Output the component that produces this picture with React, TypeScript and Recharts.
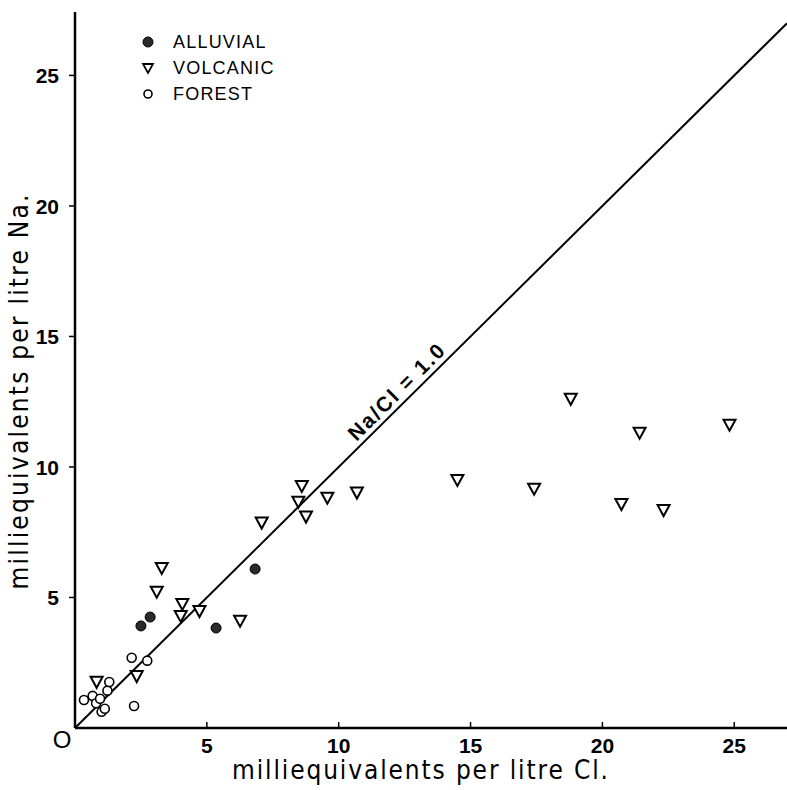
import {
  ScatterChart,
  Scatter,
  XAxis,
  YAxis,
  ReferenceLine,
  ReferenceDot,
  Legend,
} from "recharts";

// Cl (x) and Na (y), milliequivalents per litre
const alluvialCl = [2.5, 2.85, 5.35, 6.83];
const alluvialNa = [3.91, 4.25, 3.83, 6.09];

const volcanicCl = [
  0.82, 2.34, 3.1, 3.29, 4.01, 4.07, 4.72, 6.26, 7.08, 8.47, 8.6, 8.76, 9.57,
  10.69, 14.5, 17.41, 18.8, 20.72, 21.41, 22.32, 24.82,
];
const volcanicNa = [
  1.77, 1.99, 5.22, 6.13, 4.29, 4.75, 4.48, 4.11, 7.87, 8.67, 9.27, 8.1, 8.82,
  9.02, 9.5, 9.17, 12.61, 8.58, 11.31, 8.35, 11.62,
];

const forestCl = [0.34, 0.67, 0.8, 0.95, 1.01, 1.13, 1.23, 1.3, 2.15, 2.24, 2.74];
const forestNa = [1.07, 1.23, 0.95, 1.12, 0.62, 0.74, 1.43, 1.76, 2.69, 0.84, 2.58];

const xTicks = [0, 5, 10, 15, 20, 25];
const yTicks = [5, 10, 15, 20, 25];

const ratioLabel = "Na/Cl = 1.0";

const zip = (xs: number[], ys: number[]) => xs.map((x, i) => ({ cl: x, na: ys[i] }));

const alluvial = zip(alluvialCl, alluvialNa);
const volcanic = zip(volcanicCl, volcanicNa);
const forest = zip(forestCl, forestNa);

const FONT = "'Liberation Sans', Arial, sans-serif";
const NARROW = "'Liberation Sans Narrow', 'DejaVu Sans Condensed', 'Liberation Sans', sans-serif";

const FilledDot = (p: any) => (
  <circle cx={p.cx} cy={p.cy} r={5} fill="#2a2a2a" stroke="#000" strokeWidth={1} />
);

const OpenDot = (p: any) => (
  <circle cx={p.cx} cy={p.cy} r={4.5} fill="#fff" stroke="#000" strokeWidth={1.6} />
);

const Triangle = (p: any) => (
  <path
    d={`M${p.cx - 6},${p.cy - 5} L${p.cx + 6},${p.cy - 5} L${p.cx},${p.cy + 6} Z`}
    fill="#fff"
    stroke="#000"
    strokeWidth={2}
    strokeLinejoin="miter"
  />
);

const XTick = ({ x, y, payload }: any) => {
  if (payload.value === 0) {
    return (
      <text x={x - 13} y={y + 20} textAnchor="middle" fontSize={24} fontFamily={FONT} fill="#000">
        O
      </text>
    );
  }
  return (
    <g>
      <line x1={x} y1={y} x2={x} y2={y - 6} stroke="#000" strokeWidth={1.5} />
      <text x={x} y={y + 25} textAnchor="middle" fontSize={21} fontWeight={600} fontFamily={FONT} fill="#000">
        {payload.value}
      </text>
    </g>
  );
};

const YTick = ({ x, y, payload }: any) => (
  <g>
    <line x1={x} y1={y} x2={x - 6} y2={y} stroke="#000" strokeWidth={1.5} />
    <text x={x - 16} y={y + 8} textAnchor="end" fontSize={21} fontWeight={600} fontFamily={FONT} fill="#000">
      {payload.value}
    </text>
  </g>
);

const legendItems = [
  { name: "ALLUVIAL", icon: "filled" },
  { name: "VOLCANIC", icon: "tri" },
  { name: "FOREST", icon: "open" },
];

const LegendBox = () => (
  <div style={{ fontFamily: FONT, fontSize: 18, color: "#000" }}>
    {legendItems.map((it) => (
      <div key={it.name} style={{ display: "flex", alignItems: "center", height: 26 }}>
        <svg width={16} height={16} style={{ marginRight: 17 }}>
          {it.icon === "filled" && <circle cx={8} cy={8} r={5} fill="#2a2a2a" stroke="#000" />}
          {it.icon === "tri" && (
            <path d="M3,4 L13,4 L8,13 Z" fill="#fff" stroke="#000" strokeWidth={1.8} />
          )}
          {it.icon === "open" && <circle cx={8} cy={8} r={4} fill="#fff" stroke="#000" strokeWidth={1.6} />}
        </svg>
        <span style={{ letterSpacing: 1.2 }}>{it.name}</span>
      </div>
    ))}
  </div>
);

export default function App() {
  return (
    <div style={{ position: "absolute", left: 0, top: 0, background: "#fff" }}>
      <ScatterChart
        width={787}
        height={790}
        margin={{ top: 12, right: 0, bottom: 0, left: 0 }}
        style={{ fontFamily: FONT }}
      >
        <XAxis
          type="number"
          dataKey="cl"
          domain={[0, 27]}
          ticks={xTicks}
          height={62}
          axisLine={{ stroke: "#000", strokeWidth: 2.5 }}
          tickLine={false}
          tickSize={0}
          tickMargin={0}
          tick={<XTick />}
          allowDataOverflow
          label={(props: any) => {
            const vb = props.viewBox;
            return (
              <text
                x={vb.x + vb.width / 2 - 11}
                y={vb.y + 51}
                textAnchor="middle"
                fontSize={26}
                textLength={376}
                fontFamily={NARROW}
                fill="#000"
              >
                milliequivalents per litre Cl.
              </text>
            );
          }}
        />
        <XAxis
          xAxisId="top"
          orientation="top"
          type="number"
          domain={[0, 27]}
          height={0}
          tick={false}
          tickLine={false}
          axisLine={{ stroke: "#000", strokeWidth: 2.5 }}
        />
        <YAxis
          type="number"
          dataKey="na"
          domain={[0, 27.43]}
          ticks={yTicks}
          width={75}
          axisLine={{ stroke: "#000", strokeWidth: 2.5 }}
          tickLine={false}
          tickSize={0}
          tickMargin={0}
          tick={<YTick />}
          allowDataOverflow
          label={(props: any) => {
            const vb = props.viewBox;
            const cx = 19;
            const cy = vb.y + vb.height / 2 + 22;
            return (
              <text
                x={cx}
                y={cy}
                transform={`rotate(-90, ${cx}, ${cy})`}
                textAnchor="middle"
                dominantBaseline="central"
                fontSize={26}
                textLength={395}
                fontFamily={NARROW}
                fill="#000"
              >
                milliequivalents per litre Na.
              </text>
            );
          }}
        />
        <ReferenceLine
          segment={[
            { x: 0, y: 0 },
            { x: 27, y: 27 },
          ]}
          stroke="#000"
          strokeWidth={2}
        />
        <ReferenceDot
          x={12.2}
          y={12.9}
          r={0}
          fill="none"
          stroke="none"
          label={{
            value: ratioLabel,
            position: "center",
            angle: -45,
            fontSize: 21,
            fontWeight: 700,
            letterSpacing: 2,
            fill: "#000",
          }}
        />
        <Scatter name="FOREST" data={forest} shape={OpenDot} isAnimationActive={false} />
        <Scatter name="ALLUVIAL" data={alluvial} shape={FilledDot} isAnimationActive={false} />
        <Scatter name="VOLCANIC" data={volcanic} shape={Triangle} isAnimationActive={false} />
        <Legend
          layout="vertical"
          align="center"
          verticalAlign="middle"
          content={<LegendBox />}
          wrapperStyle={{ left: 140, top: 29, width: "auto" }}
        />
      </ScatterChart>
    </div>
  );
}
